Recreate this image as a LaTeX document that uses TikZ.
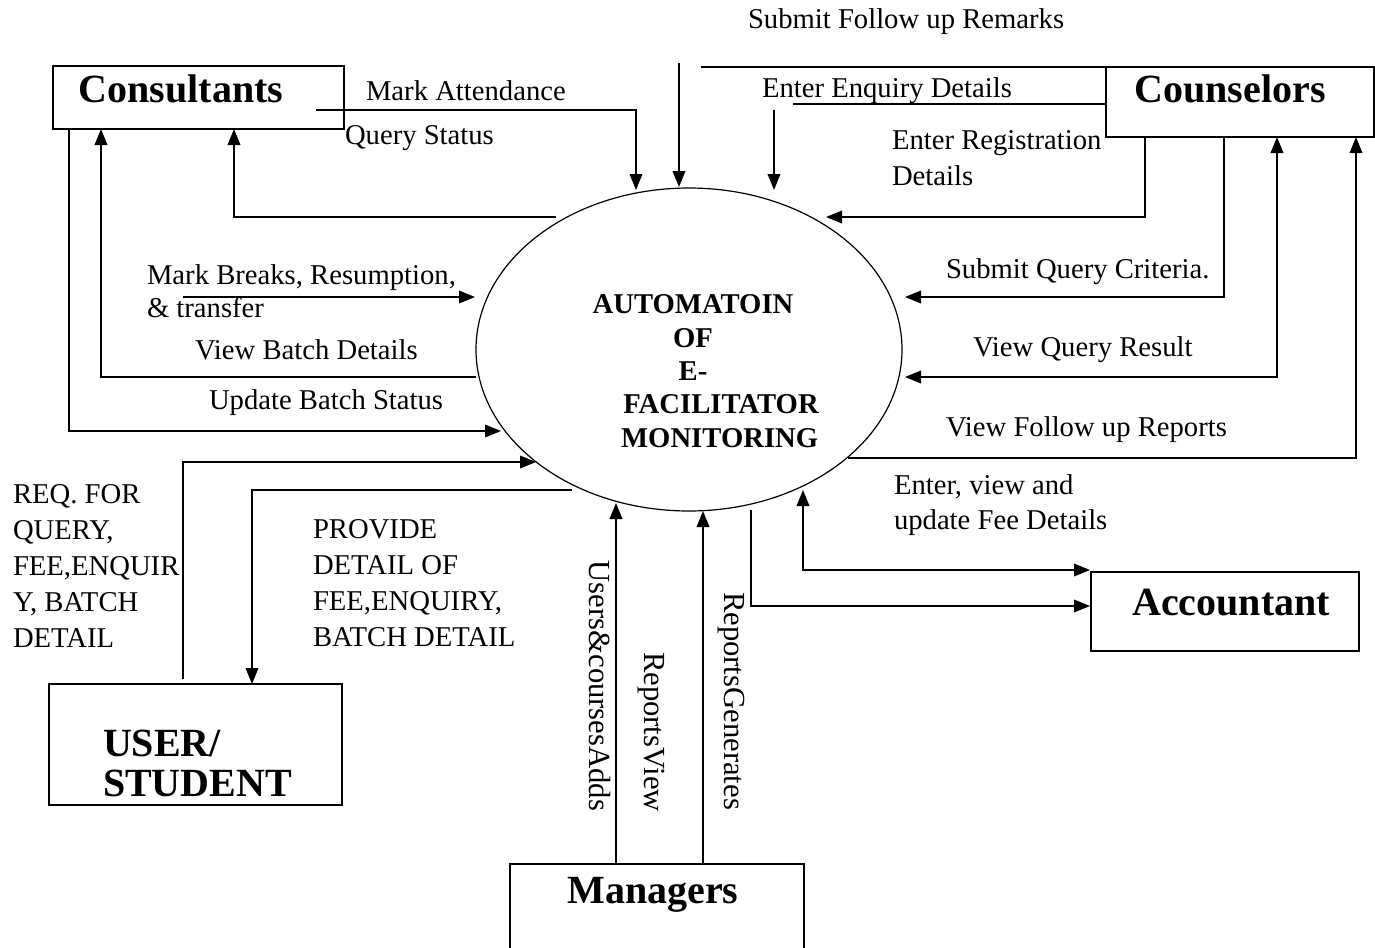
\documentclass[tikz,border=0pt]{standalone}
\usepackage{fontspec}
\setmainfont{Liberation Serif}
\usetikzlibrary{shapes.geometric,arrows.meta,calc}
\begin{document}
\begin{tikzpicture}[x=0.75pt,y=-0.75pt,
  every node/.style={inner sep=0pt,outer sep=0pt},
  flow/.style={line width=1.1pt},
  tip/.tip={Triangle[length=12pt,width=9.5pt]},
  arr/.style={flow,-tip},
  biarr/.style={flow,tip-tip},
  entity/.style={draw,line width=1.3pt,rectangle},
  ename/.style={font=\fontsize{30}{30}\selectfont\bfseries,align=left},
  lbl/.style={font=\fontsize{21.5}{27}\selectfont,align=left,anchor=west},
  vlbl/.style={font=\fontsize{23}{27}\selectfont,rotate=-90},
]
\path[use as bounding box,fill=white] (0,0) rectangle (1375,947);

% central process
\node[draw,ellipse,line width=0.9pt,minimum width=319.5pt,minimum height=242.25pt] (sys) at (689,349.5) {};
\node[font=\fontsize{21.5}{25}\selectfont\bfseries,align=center] (title) at (693,371)
  {AUTOMATOIN\\OF\\E-\\\hspace*{42pt}FACILITATOR\\\hspace*{40pt}MONITORING};

% external entities
\node[entity,minimum width=218.25pt,minimum height=47.25pt] (cons) at (198.5,97.5) {};
\node[ename] (consname) at (181,89) {Consultants};
\node[entity,minimum width=201pt,minimum height=52.5pt] (couns) at (1240,102) {};
\node[ename] (counsname) at (1230,89) {Counselors};
\node[entity,minimum width=219.75pt,minimum height=90.75pt] (user) at (195.5,744.5) {};
\node[ename,anchor=west] (username) at (103,763) {USER/\\STUDENT};
\node[entity,minimum width=220.5pt,minimum height=63.75pt] (mgr) at (657,906.5) {};
\node[ename] (mgrname) at (653,895) {Managers};
\node[entity,minimum width=201pt,minimum height=59.25pt] (acct) at (1225,611.5) {};
\node[ename] (acctname) at (1231,603) {Accountant};

% free line ends
\coordinate (maS) at (316,110);
\coordinate (mbS) at (183,297);
\coordinate (sfS) at (679,63);
\coordinate (sfL) at (701,67);
\coordinate (eeL) at (793,104);
\coordinate (eeS) at (774,110);

% Consultants flows
\draw[arr] (maS) -| ($(sys.center)+(-53,-159.5)$);
\draw[arr] ($(sys.center)+(-133,-132.5)$) -| ($(cons.south west)+(181,0)$);
\draw[arr] ($(sys.center)+(-213,27.5)$) -| ($(cons.south west)+(48,0)$);
\draw[arr] ($(cons.south west)+(16,0)$) |- ($(sys.center)+(-188,81.5)$);
\draw[arr] (mbS) -- ($(sys.center)+(-214,-52.5)$);

% Counselors flows
\draw[arr] (sfS) -- ($(sys.center)+(-10,-162.5)$);
\draw[line width=1.3pt] (sfL) -- (couns.north west);
\draw[flow] (couns.west |- eeL) -- (eeL);
\draw[arr] (eeS) -- ($(sys.center)+(85,-159.5)$);
\draw[arr] ($(couns.south west)+(39,0)$) |- ($(sys.center)+(137,-132.5)$);
\draw[arr] ($(couns.south west)+(118,0)$) |- ($(sys.center)+(216,-52.5)$);
\draw[biarr] ($(sys.center)+(216,27.5)$) -| ($(couns.south west)+(171,0)$);
\draw[arr] ($(sys.center)+(159,108.5)$) -| ($(couns.south west)+(250,0)$);

% User / student flows
\draw[arr] ($(user.north west)+(134,-5)$) |- ($(sys.center)+(-153,112.5)$);
\draw[arr] ($(sys.center)+(-117,140.5)$) -| ($(user.north west)+(203,0)$);

% Managers flows
\draw[arr] ($(mgr.north west)+(106,0)$) -- ($(sys.center)+(-73,153.5)$);
\draw[arr] ($(mgr.north west)+(193,0)$) -- ($(sys.center)+(14,161.5)$);

% Accountant flows
\draw[arr] ($(sys.center)+(62,160.5)$) |- ($(acct.north west)+(-1,34)$);
\draw[biarr] ($(sys.center)+(114,140.5)$) |- ($(acct.north west)+(-1,-2)$);

% flow labels
\node[lbl] (l1) at (748,22) {Submit Follow up Remarks};
\node[lbl] (l2) at (366,91) {Mark Attendance};
\node[lbl] (l3) at (345,138) {Query Status};
\node[lbl] (l4) at (762,91) {Enter Enquiry Details};
\node[lbl] (l5) at (892,158) {Enter Registration\\Details};
\node[lbl] (l6) at (147,291) {Mark Breaks, Resumption,\\[-2pt]\& transfer};
\node[lbl] (l7) at (195,350) {View Batch Details};
\node[lbl] (l8) at (209,403) {Update Batch Status};
\node[lbl] (l9) at (946,272) {Submit Query Criteria.};
\node[lbl] (l10) at (973,350) {View Query Result};
\node[lbl] (l11) at (946,430) {View Follow up Reports};
\node[lbl] (l12) at (894,505) {Enter, view and\\[-1pt]update Fee Details};
\node[lbl] (l13) at (13,566) {REQ. FOR\\QUERY,\\FEE,ENQUIR\\Y, BATCH\\DETAIL};
\node[lbl] (l14) at (313,583) {PROVIDE\\DETAIL OF\\FEE,ENQUIRY,\\BATCH DETAIL};
\node[vlbl] (l15) at (600,686) {Users\&coursesAdds};
\node[vlbl] (l16) at (651,732) {ReportsView};
\node[vlbl] (l17) at (731,701) {ReportsGenerates};
\end{tikzpicture}
\end{document}
